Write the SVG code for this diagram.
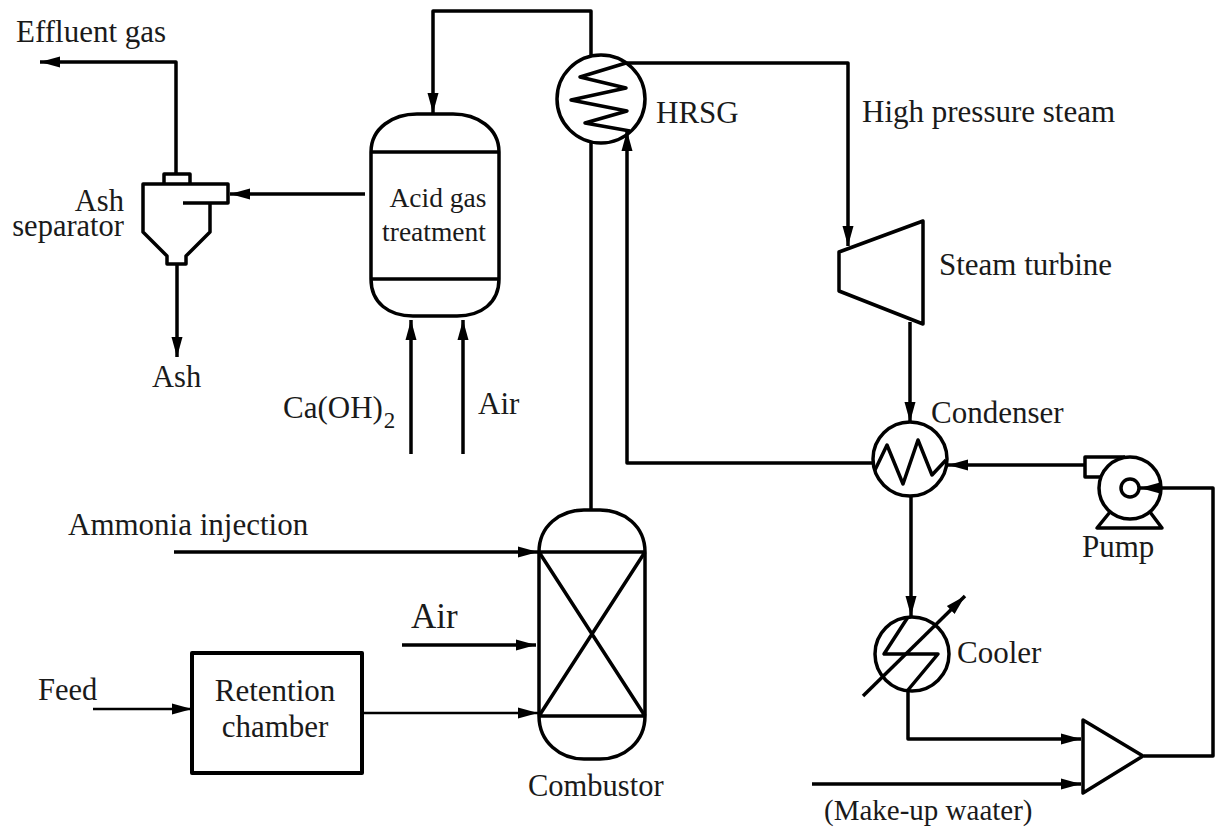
<svg xmlns="http://www.w3.org/2000/svg" width="1215" height="828" viewBox="0 0 1215 828">
<style>
text{font-family:"Liberation Serif","Times New Roman",serif;font-size:31px;fill:#1a1a1a}
.s{font-size:27.5px}
.b{font-size:35px}
.m{font-size:29px}
.u{font-size:23px}
.c{font-size:30.5px}
.l{fill:none;stroke:#000;stroke-width:3.5;stroke-linejoin:round}
.t{stroke-width:2.5}
.w{stroke-width:4}
.a{marker-end:url(#h)}
</style>
<defs>
<marker id="h" markerUnits="userSpaceOnUse" markerWidth="22" markerHeight="14" refX="20" refY="7" orient="auto"><path d="M0,1.5 L20,7 L0,12.5 Z" fill="#000"/></marker>
</defs>
<rect width="1215" height="828" fill="#fff"/>
<g id="connectors">
<path class="l a" d="M176,174 V62 H40"/>
<path class="l a" d="M591,55 V11 H433 V113"/>
<path class="l a" d="M365,194 H230"/>
<path class="l a" d="M177,265 V357"/>
<path class="l a" d="M411,454 V320"/>
<path class="l a" d="M463,454 V320"/>
<path class="l" d="M591,141 V510"/>
<path class="l a" d="M873,463 H627 V131"/>
<path class="l a" d="M627,63 H848 V246"/>
<path class="l a" d="M910,322 V422"/>
<path class="l a" d="M1085,465 H948"/>
<path class="l a" d="M911,497 V616"/>
<path class="l a" d="M908,691 V739 H1081"/>
<path class="l a" d="M812,784 H1081"/>
<path class="l a" d="M1144,756 H1213 V488 H1140"/>
<path class="l a" d="M174,552 H538"/>
<path class="l a" d="M402,645 H536"/>
<path class="l t a" d="M364,713 H538"/>
<path class="l t a" d="M93,709 H192"/>
</g>
<g id="ash-separator">
<path class="l" d="M183,203 H228 V184 H143 V232 L167,256 V264 H186 V256 L210,232 V203"/>
<path class="l" d="M164,184 V174 H190 V184"/>
<text class="c" x="124" y="211" text-anchor="end">Ash</text>
<text class="c" x="124" y="236" text-anchor="end">separator</text>
</g>
<g id="acid-gas-treatment">
<path class="l" d="M371,152 C371,128 393,114 417,114 H453 C477,114 499,128 499,152 V279 C499,303 481,316 457,316 H413 C389,316 371,303 371,279 Z"/>
<path class="l" d="M371,152 H499 M371,279 H499"/>
<text class="s" x="438" y="207" text-anchor="middle">Acid gas</text>
<text class="s" x="434" y="241" text-anchor="middle">treatment</text>
</g>
<g id="hrsg">
<circle class="l" cx="601" cy="99" r="44"/>
<path class="l" d="M626,63 L580,77 L626,88 L571,100 L627,111 L585,123 L630,131"/>
<text x="656" y="123">HRSG</text>
</g>
<g id="steam-turbine">
<path class="l" d="M839,252 L923,221 V324 L839,291 Z"/>
<text x="939" y="275">Steam turbine</text>
</g>
<g id="condenser">
<circle class="l" cx="910" cy="459" r="37"/>
<path class="l" d="M875,470 L887,445 L903,484 L918,440 L932,475 L946,460"/>
<text x="931" y="423">Condenser</text>
</g>
<g id="pump">
<circle class="l" cx="1130" cy="488" r="31"/>
<circle class="l" cx="1130" cy="488" r="9"/>
<path class="l" d="M1125,457 H1085 V477 H1102"/>
<path class="l" d="M1110,512 L1097,528 H1162 L1150,512"/>
<text x="1082" y="557">Pump</text>
</g>
<g id="cooler">
<circle class="l" cx="912" cy="654" r="37"/>
<path class="l" d="M908,617 L884,654 H938 L908,690"/>
<path class="l a" d="M863,696 L965,596"/>
<text x="957" y="663">Cooler</text>
</g>
<g id="mixer">
<path class="l" d="M1083,720 L1143,756 L1083,793 Z"/>
<text class="m" x="824" y="820">(Make-up waater)</text>
</g>
<g id="combustor">
<path class="l" d="M539,552 C539,526 560,510 584,510 H600 C624,510 645,526 645,552 V716 C645,742 624,759 600,759 H584 C560,759 539,742 539,716 Z"/>
<path class="l" d="M539,552 H645 M539,716 H645 M539,552 L645,716 M645,552 L539,716"/>
<text class="c" x="528" y="796">Combustor</text>
</g>
<g id="retention-chamber">
<rect class="l w" x="192" y="653" width="170" height="120"/>
<text x="275" y="701" text-anchor="middle">Retention</text>
<text x="275" y="737" text-anchor="middle">chamber</text>
</g>
<g id="labels">
<text x="16" y="42">Effluent gas</text>
<text class="c" x="152" y="387">Ash</text>
<text x="283" y="418">Ca(OH)<tspan class="u" dx="1" dy="10">2</tspan></text>
<text x="478" y="414">Air</text>
<text x="862" y="122">High pressure steam</text>
<text x="68" y="535">Ammonia injection</text>
<text class="b" x="411" y="628">Air</text>
<text class="c" x="38" y="700">Feed</text>
</g>
</svg>
